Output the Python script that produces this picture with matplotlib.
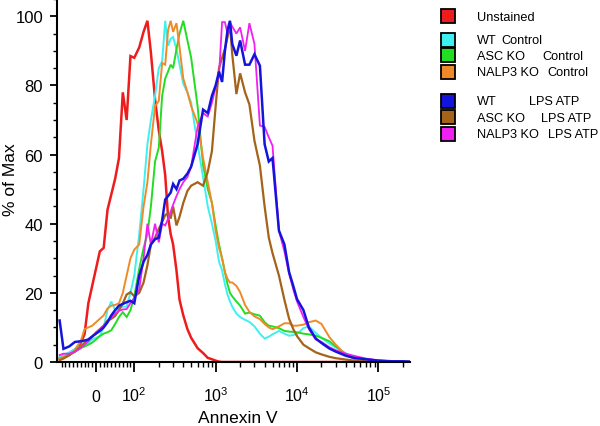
import matplotlib
matplotlib.use('Agg')
import matplotlib.pyplot as plt
from matplotlib.patches import Rectangle

plt.rcParams['font.family'] = ['Liberation Sans', 'DejaVu Sans']
plt.rcParams['mathtext.default'] = 'regular'

# Annexin V intensity (shared bins for every histogram)
annexin = [-95, -85, -70, -55, -40, -30, -20, -10, 0, 10, 20, 30, 40, 50, 60, 70, 80, 90, 100,
           115, 130, 145, 160, 180, 200, 220, 240, 260, 280, 300, 330, 360, 400, 450, 500,
           600, 700, 800, 900, 1000, 1100, 1200, 1300, 1400, 1500, 1600, 1800, 2000, 2300, 2600,
           3000, 3500, 4000, 4500, 5000,
           6000, 7000, 8000, 9000, 10000, 12000, 14000, 17000, 20000, 25000, 30000, 40000,
           50000, 70000, 100000, 150000, 200000, 245000]

# % of Max for each sample
unstained = [1.0, 1.2, 2.0, 3.5, 5.5, 8, 17, 22, 27, 32, 33, 44, 48.5, 53, 59, 78, 70, 88.5, 88,
             91, 95.5, 98.7, 89.5, 76, 67, 61, 54, 42, 37, 34, 26.5, 18, 13.5, 9.5, 7,
             4, 2.6, 1.2, 0.8, 0.4, 0.1, 0, 0, 0, 0, 0, 0, 0, 0, 0, 0, 0, 0, 0, 0,
             0, 0, 0, 0, 0, 0, 0, 0, 0, 0, 0, 0, 0, 0, 0, 0, 0, 0]
wt_ctrl = [1.5, 2.0, 2.8, 3.8, 4.5, 5.0, 5.5, 6.5, 7.0, 7.5, 10, 15, 17.5, 15, 15.5, 16, 16, 20, 25,
           37, 50, 63, 70, 77, 85, 87, 98.7, 91.5, 93.5, 94, 90.5, 86, 80.5, 78, 75,
           63, 53.5, 45, 40, 35, 29, 26.5, 22.5, 19.5, 17.5, 16, 14, 13, 12.2, 11.6, 10.3, 8.2, 6.8, 7.3, 8.0,
           9, 8.2, 7.6, 7.8, 8.1, 9.8, 10.3, 8.4, 7, 5.3, 4.2, 2.5, 1.3, 0.5, 0.2, 0, 0, 0]
asc_ctrl = [1.0, 1.4, 2.2, 3.0, 4.0, 4.5, 5.0, 5.6, 6.5, 7.5, 8.2, 8.6, 9.2, 11, 13, 14.4, 13, 15, 19,
            27, 33, 37, 45, 58, 62, 77, 82, 84, 86, 85, 90.5, 95, 98.7, 93, 88,
            74, 57, 50, 46, 39.5, 34, 30, 26, 22.5, 20, 19, 17.5, 16.3, 14, 14.3, 13.8, 13.4, 11.5, 10.5, 10.3,
            9.8, 9, 8.8, 8.7, 8.6, 8.2, 8.0, 7.6, 7, 6, 4.5, 2.2, 1.0, 0.3, 0.1, 0, 0, 0]
nalp3_ctrl = [1.0, 1.5, 2.0, 3.5, 6, 9.5, 10, 10.5, 11.5, 12.5, 13.5, 15.5, 16.3, 16.5, 17, 20, 25, 30, 32.5,
              34, 45, 52, 63, 74, 75.5, 86.5, 86, 96, 98.7, 95.5, 98, 91, 82, 78, 74,
              69, 59, 52, 46, 38, 33, 30, 26, 24, 23, 23, 22, 20.2, 16.5, 14.5, 13.2, 12.4, 11, 10, 9.5,
              10.3, 11.2, 11.2, 10.5, 10.5, 10.8, 11.5, 12, 11, 7.2, 5, 2, 1.0, 0.4, 0.1, 0, 0, 0]
wt_lps = [12, 3.8, 4.5, 5.8, 6.0, 6.2, 6.5, 7.4, 8.2, 9, 10, 11.5, 13.5, 15, 16.3, 16.8, 17.3, 17.7, 17,
          25, 29, 31, 34, 35.5, 36, 41, 47, 48, 49, 51.5, 50, 52.5, 53, 54.5, 56.5,
          63, 73, 72, 77, 80, 84, 81, 90, 96, 98.7, 92, 88.6, 93, 86, 86, 89, 85.7, 63, 58, 59,
          38, 34, 26, 22, 18.2, 15, 10, 6.8, 5.5, 3.9, 3.0, 1.8, 1.2, 0.8, 0.4, 0.2, 0.2, 0.1]
asc_lps = [0.5, 1.0, 2.0, 3.0, 4.5, 5.5, 6.5, 7.3, 8.5, 9.5, 10.5, 12, 12.5, 13.3, 15, 17, 19.5, 20.2, 19,
           20, 23, 28, 34, 36, 38.5, 40.5, 42.5, 43, 41.5, 45, 39.5, 42, 46, 49.5, 51,
           52, 51, 55, 61, 74, 85, 88, 90.5, 94, 97.5, 89, 77.5, 83.5, 78, 74.5, 64, 56.8, 45, 36, 31.5,
           25, 18, 12.5, 9.5, 7.5, 5.0, 4.0, 2.8, 2.2, 1.5, 1.1, 0.7, 0.4, 0.2, 0, 0, 0, 0]
nalp3_lps = [2.0, 2.4, 2.4, 3.0, 4.0, 5.0, 6.0, 7.3, 8.5, 9.5, 10.5, 11.5, 12.8, 14, 14.8, 15.2, 15.3, 17, 18.5,
             21, 30, 40, 34, 40, 34.6, 40, 39.5, 41.4, 43.5, 45.5, 48, 50, 52, 53.5, 56.5,
             68, 72, 71, 75, 79.5, 83, 98.3, 98.3, 95, 98.3, 97, 95, 96.8, 90, 98, 92, 68.4, 68, 65, 62.6,
             38, 32, 25.5, 21, 17.5, 13, 9.5, 6.5, 5.8, 4.3, 3.4, 2.4, 1.8, 1.0, 0.5, 0.2, 0.1, 0.1]

# legend: (first word, second word, x of second word in px, row y in px)
legend_rows = [('Unstained', '', 0, 17.3),
               ('WT', 'Control', 501.7, 40.5),
               ('ASC KO', 'Control', 542.7, 56.3),
               ('NALP3 KO', 'Control', 547.7, 72.7),
               ('WT', 'LPS ATP', 529, 101.7),
               ('ASC KO', 'LPS ATP', 540.7, 118.3),
               ('NALP3 KO', 'LPS ATP', 547.7, 135)]

colors = ['#ee1c1c', '#3ff0f0', '#22dd22', '#f08a28', '#1414dc', '#a5631a', '#f020f0']
curves = [unstained, wt_ctrl, asc_ctrl, nalp3_ctrl, wt_lps, asc_lps, nalp3_lps]
widths = [1.8, 1.4, 1.4, 1.4, 1.8, 1.6, 1.3]
draw_order = [0, 1, 2, 3, 5, 6, 4]

W, H = 600, 427
fig = plt.figure(figsize=(W / 100, H / 100), dpi=100)
ax = fig.add_axes([56.5 / W, 64 / H, 353.5 / W, 363 / H])
ax.set_xscale('symlog', linthresh=100, linscale=0.4236)

for i in draw_order:
    ax.plot(annexin, curves[i], color=colors[i], lw=widths[i], solid_joinstyle='miter')

ax.set_xlim(-103.5, 2.45e5)
ax.set_ylim(0, 105)

for s in ['top', 'right']:
    ax.spines[s].set_visible(False)
for s in ['left', 'bottom']:
    ax.spines[s].set_linewidth(1.5)

ax.set_xticks([0, 100, 1000, 10000, 100000])
ax.set_xticklabels(['0', r'$10^{2}$', r'$10^{3}$', r'$10^{4}$', r'$10^{5}$'])
minor = [-90, -80, -70, -60, -50, -40, -30, -20, -10, 10, 20, 30, 40, 50, 60, 70, 80, 90]
for d in [100, 1000, 10000]:
    minor += [k * d for k in range(2, 10)]
minor += [200000]
ax.set_xticks(minor, minor=True)
ax.set_yticks([0, 20, 40, 60, 80, 100])
ax.set_yticks(range(5, 106, 5), minor=True)

ax.tick_params(axis='x', which='major', length=7, width=1.3, pad=21, labelsize=11.5)
ax.tick_params(axis='x', which='minor', length=3.5, width=1.0)
ax.tick_params(axis='y', which='major', length=4.7, width=1.3, pad=5, labelsize=12)
ax.tick_params(axis='y', which='minor', length=3, width=1.0)
plt.setp(ax.get_xticklabels(), va='baseline')

ax.set_xlabel('Annexin V', fontsize=12.5)
ax.xaxis.set_label_coords(0.512, -0.133)
ax.set_ylabel('% of Max', fontsize=12.5)
ax.yaxis.set_label_coords(-0.108, 0.505)

for (a, b, bx, py), c in zip(legend_rows, colors):
    fig.add_artist(Rectangle(((448 - 7) / W, 1 - (py + 7) / H), 14 / W, 14 / H,
                             facecolor=c, edgecolor='black', lw=1.3,
                             transform=fig.transFigure))
    fig.text(476.7 / W, 1 - (py + 0.5) / H, a, fontsize=9.2, va='center', ha='left')
    if b:
        fig.text(bx / W, 1 - (py + 0.5) / H, b, fontsize=9.2, va='center', ha='left')

fig.savefig('out.png', dpi=100)
